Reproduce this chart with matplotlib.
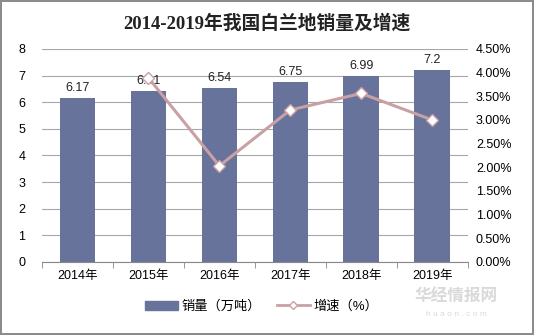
import matplotlib.pyplot as plt
import matplotlib.ticker as mticker
import numpy as np

plt.rcParams['font.family'] = ['Liberation Sans', 'Noto Sans CJK SC']

# data
years = ["2014年", "2015年", "2016年", "2017年", "2018年", "2019年"]
sales = [6.17, 6.41, 6.54, 6.75, 6.99, 7.2]
growth_years = ["2015年", "2016年", "2017年", "2018年", "2019年"]
growth = [3.89, 2.03, 3.21, 3.56, 3.00]

fig = plt.figure(figsize=(5.34, 3.35), dpi=100)
fig.patch.set_edgecolor("#8c8c8c")
fig.patch.set_linewidth(1.5)

ax = fig.add_axes([0.0787, 0.218, 0.797, 0.636])
x = np.arange(len(years))
bars = ax.bar(x, sales, width=0.5, color="#67739b", zorder=2)
for xi, v in zip(x, sales):
    ax.text(xi, v + 0.15, f"{v:g}", ha="center", va="bottom", fontsize=9, color="#222222")

ax.set_ylim(0, 8)
ax.set_xlim(-0.5, len(years) - 0.5)
ax.set_yticks(range(0, 9))
ax.yaxis.grid(True, color="#a6a6a6", linewidth=0.8, zorder=0)
ax.set_xticks(x)
ax.set_xticklabels(years, fontsize=9)
ax.set_xticks(np.arange(-0.5, len(years)), minor=True)
ax.tick_params(axis="x", which="major", length=0, pad=6)
ax.tick_params(axis="x", which="minor", length=4, color="#888888")
ax.tick_params(axis="y", length=0, labelsize=9, pad=12)
for s in ["top", "right", "left"]:
    ax.spines[s].set_visible(False)
ax.spines["bottom"].set_color("#888888")

ax2 = ax.twinx()
gx = [years.index(g) for g in growth_years]
ax2.plot(gx, growth, color="#c9a0a4", linewidth=2.2, marker="D", markersize=6,
         markerfacecolor="white", markeredgecolor="#c9a0a4", markeredgewidth=1, zorder=3)
ax2.set_ylim(0, 4.5)
ax2.set_yticks(np.arange(0, 4.51, 0.5))
ax2.yaxis.set_major_formatter(mticker.FuncFormatter(lambda v, p: f"{v:.2f}%"))
ax2.tick_params(axis="y", length=0, labelsize=9, pad=6)
for s in ["top", "right", "left", "bottom"]:
    ax2.spines[s].set_visible(False)

fig.text(0.5, 0.93, "2014-2019年我国白兰地销量及增速", ha="center", va="center",
         fontsize=13.5, fontweight="bold", color="#222222",
         family=['Liberation Serif', 'Noto Sans CJK SC'])

h1 = plt.Rectangle((0, 0), 1, 1, color="#67739b")
h2, = ax2.plot([], [], color="#c9a0a4", linewidth=2, marker="D", markersize=4,
               markerfacecolor="white", markeredgecolor="#c9a0a4")
fig.legend([h1, h2], ["销量（万吨）", "增速（%）"], loc="center", bbox_to_anchor=(0.49, 0.085),
           ncol=2, frameon=False, fontsize=9.5, handlelength=2.5, columnspacing=1.2,
           handletextpad=0.3)

# watermark
fig.text(0.855, 0.115, "华经情报网", ha="center", va="center", fontsize=12,
         fontweight="bold", color="#d9d9d9")
fig.text(0.855, 0.06, "h u a o n . c o m", ha="center", va="center", fontsize=6, color="#d9d9d9")

fig.savefig("out.png", dpi=100, edgecolor=fig.get_edgecolor())
